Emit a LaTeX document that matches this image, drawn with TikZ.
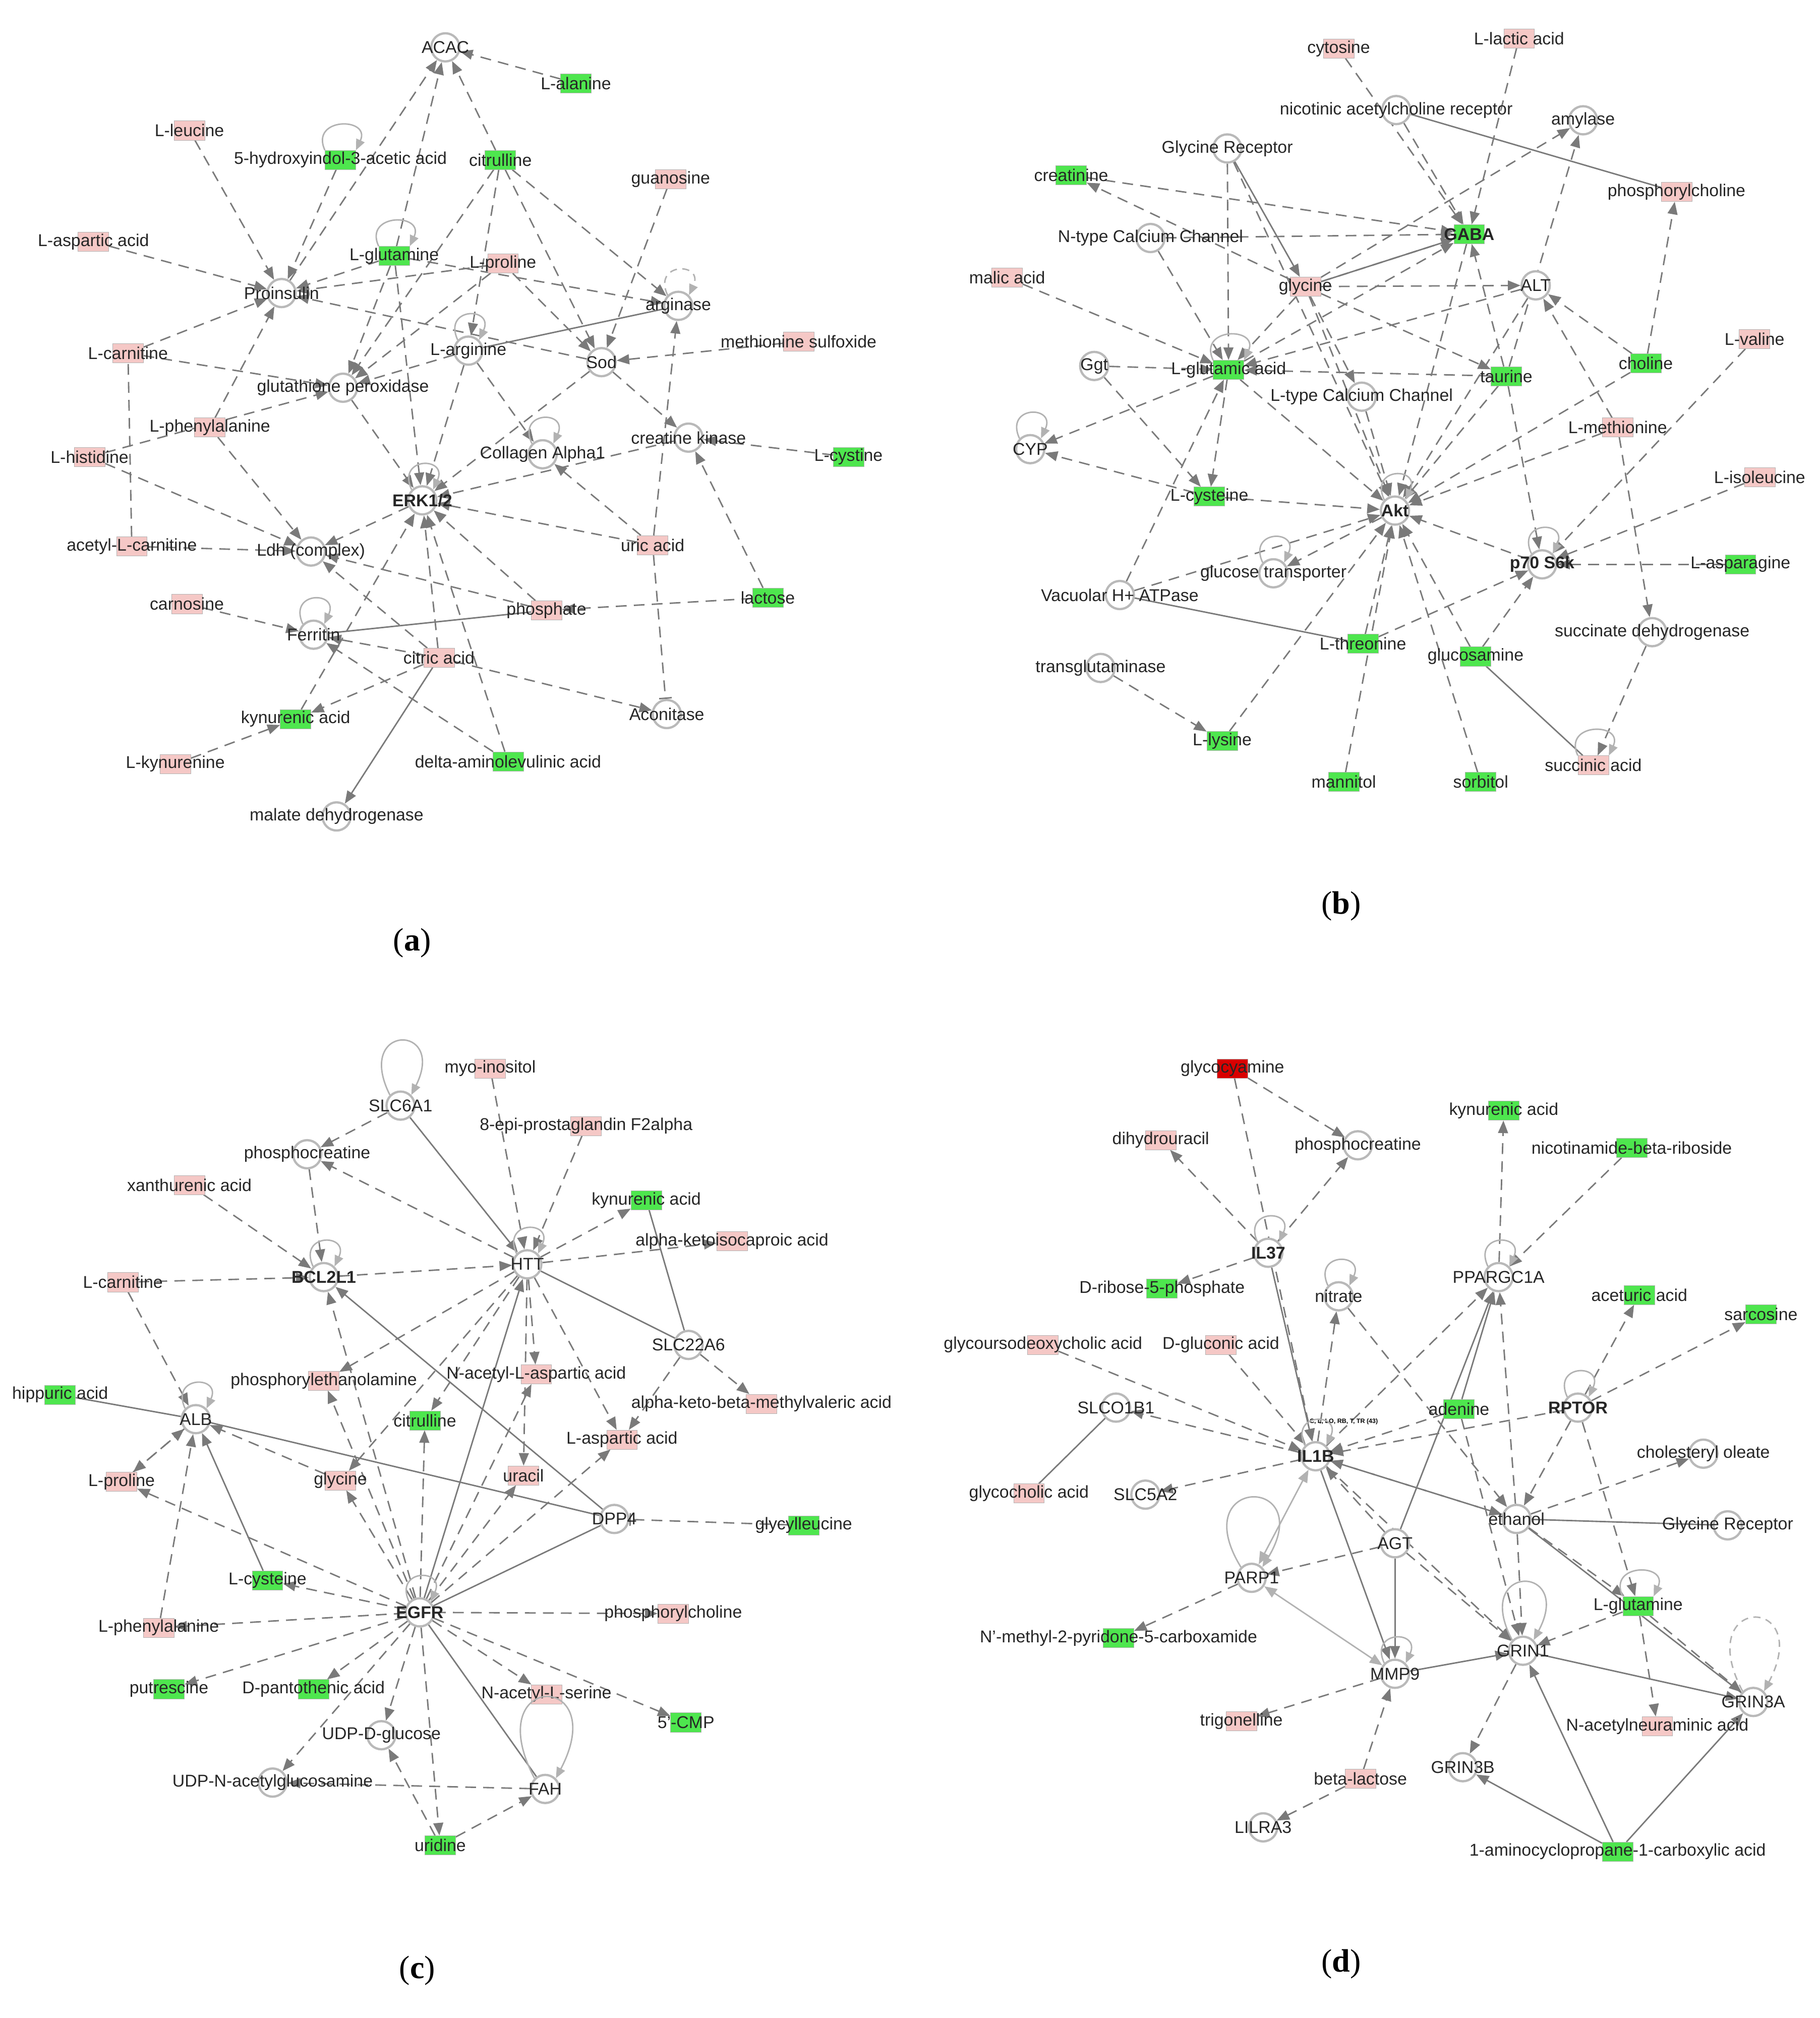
\documentclass[tikz,border=0pt]{standalone}
\usepackage{fontspec}
\setmainfont{Liberation Sans}
\newfontfamily\capfont{Liberation Serif}
\usetikzlibrary{arrows.meta}
\pgfdeclarelayer{bg}\pgfdeclarelayer{edges}\pgfsetlayers{bg,edges,main}
\definecolor{pk}{HTML}{F5C8C6}
\definecolor{gr}{HTML}{4EE64E}
\definecolor{ln}{HTML}{7A7A7A}
\tikzset{
 pkn/.style={draw=gray!60,fill=pk,minimum width=1.2cm,minimum height=0.75cm,inner sep=0},
 grn/.style={draw=gray!60,fill=gr,minimum width=1.2cm,minimum height=0.75cm,inner sep=0},
 rdn/.style={draw=gray!60,fill=red!85!black,minimum width=1.2cm,minimum height=0.75cm,inner sep=0},
 cin/.style={circle,draw=gray!55,line width=2.5pt,fill=white,minimum size=1.1cm,inner sep=0},
 lab/.style={font=\fontsize{19}{22}\selectfont,text=black!85,inner sep=0},
 blab/.style={font=\fontsize{19}{22}\selectfont\bfseries,text=black!85,inner sep=0},
 da/.style={draw=ln,line width=1.6pt,dash pattern=on 12pt off 8pt,-{Triangle[length=14pt,width=11pt]}},
 sa/.style={draw=ln,line width=1.6pt,-{Triangle[length=14pt,width=11pt]}},
 sn/.style={draw=ln,line width=1.6pt},
 dn/.style={draw=ln,line width=1.6pt,dash pattern=on 12pt off 8pt},
 inh/.style={draw=ln,line width=1.6pt,dash pattern=on 12pt off 8pt,-{Bar[width=14pt]}},
 sl/.style={draw=gray!60,line width=1.6pt,-{Triangle[length=12pt,width=10pt]}},
 captxt/.style={font=\capfont\fontsize{36}{40}\selectfont}
}
\newcommand\nP[4]{\node[pkn] (#1) at (#2,#3) {}; \node[lab] at (#1) {#4};}
\newcommand\nG[4]{\node[grn] (#1) at (#2,#3) {}; \node[lab] at (#1) {#4};}
\newcommand\nC[4]{\node[cin] (#1) at (#2,#3) {}; \node[lab] at (#1) {#4};}
\newcommand\nB[4]{\node[cin] (#1) at (#2,#3) {}; \node[blab] at (#1) {#4};}
\newcommand\Lp[1]{\draw[sl] (#1.north west) .. controls +(-0.6cm,1.3cm) and +(0.6cm,1.3cm) .. (#1.north east);}
\begin{document}
\begin{tikzpicture}[x=0.05cm,y=-0.05cm]
\begin{pgfonlayer}{bg}
\path[use as bounding box,fill=white] (0,0) rectangle (1422,1577);
\end{pgfonlayer}
% ---------- panel a
\nC{aACAC}{348}{37}{ACAC}
\nG{aAla}{450}{65}{L-alanine}
\nP{aLeu}{148}{102}{L-leucine}
\nG{aHIAA}{266}{125}{5-hydroxyindol-3-acetic acid}
\nG{aCit}{391}{125}{citrulline}
\nP{aGua}{524}{140}{guanosine}
\nP{aAsp}{73}{189}{L-aspartic acid}
\nG{aGln}{308}{200}{L-glutamine}
\nP{aPro}{393}{206}{L-proline}
\nC{aPins}{220}{229}{Proinsulin}
\nC{aArgase}{530}{239}{arginase}
\nP{aCarn}{100}{276}{L-carnitine}
\nC{aArg}{366}{274}{L-arginine}
\nC{aSod}{470}{283}{Sod}
\nP{aMetS}{624}{267}{methionine sulfoxide}
\nC{aGPx}{268}{303}{glutathione peroxidase}
\nP{aPhe}{164}{334}{L-phenylalanine}
\nC{aCK}{538}{342}{creatine kinase}
\nC{aCol}{424}{355}{Collagen Alpha1}
\nP{aHis}{70}{357}{L-histidine}
\nG{aCys}{663}{357}{L-cystine}
\nB{aERK}{330}{391}{ERK1/2}
\nP{aAcar}{103}{427}{acetyl-L-carnitine}
\nP{aUric}{510}{426}{uric acid}
\nC{aLdh}{243}{431}{Ldh (complex)}
\nP{aCarno}{146}{472}{carnosine}
\nG{aLac}{600}{467}{lactose}
\nP{aPhos}{427}{477}{phosphate}
\nC{aFer}{245}{496}{Ferritin}
\nP{aCitr}{343}{514}{citric acid}
\nC{aAcon}{521}{558}{Aconitase}
\nG{aKyn}{231}{562}{kynurenic acid}
\nP{aKynu}{137}{597}{L-kynurenine}
\nG{aDelta}{397}{595}{delta-aminolevulinic acid}
\nC{aMDH}{263}{638}{malate dehydrogenase}
\begin{pgfonlayer}{edges}
\foreach \a/\b in {aAla/aACAC,aGln/aACAC,aCit/aACAC,aPins/aACAC,aLeu/aPins,aAsp/aPins,aHIAA/aPins,aGln/aPins,aPro/aPins,aSod/aPins,aCarn/aPins,aPhe/aPins,aCit/aGPx,aCit/aArg,aCit/aArgase,aCit/aSod,aGua/aSod,aGln/aArgase,aGln/aERK,aGln/aGPx,aPro/aSod,aPro/aGPx,aArg/aERK,aArg/aCol,aArg/aGPx,aMetS/aSod,aCarn/aGPx,aHis/aLdh,aHis/aGPx,aPhe/aLdh,aSod/aCK,aSod/aERK,aCys/aCK,aCK/aERK,aUric/aERK,aUric/aArgase,aUric/aCol,aLac/aCK,aPhos/aERK,aPhos/aLdh,aLac/aPhos,aCarno/aFer,aCitr/aERK,aCitr/aLdh,aCitr/aFer,aCitr/aAcon,aCitr/aKyn,aKyn/aERK,aKynu/aKyn,aDelta/aFer,aDelta/aERK,aERK/aLdh,aAcar/aLdh,aGPx/aERK}
 \draw[da] (\a) -- (\b);
\draw[sn] (aArg) -- (aArgase);
\draw[sn] (aFer) -- (aPhos);
\draw[sa] (aCitr) -- (aMDH);
\draw[dn] (aAcar) -- (aCarn);
\draw[inh] (aUric) -- (aAcon);
\end{pgfonlayer}
\Lp{aHIAA}\Lp{aArg}\Lp{aCol}\Lp{aERK}\Lp{aFer}\Lp{aGln}
\draw[sl,dash pattern=on 8pt off 6pt] (aArgase.north west) .. controls +(-0.6cm,1.3cm) and +(0.6cm,1.3cm) .. (aArgase.north east);
% ---------- panel b
\nP{bCyt}{1046}{38}{cytosine}
\nP{bLac}{1187}{30}{L-lactic acid}
\nC{bnAChR}{1091}{86}{nicotinic acetylcholine receptor}
\nC{bAmy}{1237}{94}{amylase}
\nC{bGlyR}{959}{116}{Glycine Receptor}
\nG{bCrn}{837}{137}{creatinine}
\nP{bPC}{1310}{150}{phosphorylcholine}
\nG{bGABA}{1148}{183}{\bfseries GABA}
\nC{bNtype}{899}{186}{N-type Calcium Channel}
\nP{bMal}{787}{217}{malic acid}
\nP{bGly}{1020}{224}{glycine}
\nC{bALT}{1200}{223}{ALT}
\nC{bGgt}{855}{286}{Ggt}
\nG{bGlu}{960}{289}{L-glutamic acid}
\nG{bTau}{1177}{294}{taurine}
\nG{bCho}{1286}{284}{choline}
\nP{bVal}{1371}{265}{L-valine}
\nC{bLtype}{1064}{310}{L-type Calcium Channel}
\nC{bCYP}{805}{351}{CYP}
\nP{bMet}{1264}{334}{L-methionine}
\nG{bCys}{945}{388}{L-cysteine}
\nB{bAkt}{1090}{399}{Akt}
\nP{bIle}{1375}{373}{L-isoleucine}
\nB{bS6k}{1205}{441}{p70 S6k}
\nG{bAsn}{1360}{441}{L-asparagine}
\nC{bGT}{995}{448}{glucose transporter}
\nC{bVac}{875}{465}{Vacuolar H+ ATPase}
\nC{bSDH}{1291}{494}{succinate dehydrogenase}
\nG{bThr}{1065}{503}{L-threonine}
\nG{bGlcN}{1153}{513}{glucosamine}
\nC{bTG}{860}{522}{transglutaminase}
\nG{bLys}{955}{579}{L-lysine}
\nG{bMan}{1050}{611}{mannitol}
\nG{bSor}{1157}{611}{sorbitol}
\nP{bSuc}{1245}{598}{succinic acid}
\begin{pgfonlayer}{edges}
\foreach \a/\b in {bCyt/bGABA,bLac/bGABA,bnAChR/bGABA,bGly/bAmy,bGlyR/bGlu,bGlyR/bAkt,bGly/bCrn,bCrn/bGABA,bNtype/bGABA,bNtype/bGlu,bMal/bGlu,bGly/bGABA,bGly/bALT,bGly/bGlu,bGly/bAkt,bGly/bTau,bGgt/bGlu,bGgt/bCys,bGlu/bCYP,bGlu/bGABA,bGlu/bAkt,bGlu/bCys,bALT/bGlu,bTau/bGABA,bTau/bAkt,bTau/bGlu,bCho/bALT,bCho/bPC,bCho/bAkt,bVal/bS6k,bMet/bAkt,bMet/bALT,bMet/bSDH,bIle/bS6k,bAsn/bS6k,bCys/bAkt,bCys/bCYP,bAkt/bGT,bVac/bAkt,bVac/bGlu,bTG/bLys,bLys/bAkt,bMan/bAkt,bSor/bAkt,bGlcN/bAkt,bGlcN/bS6k,bSDH/bSuc,bThr/bAkt,bThr/bS6k,bS6k/bAkt,bALT/bAkt,bTau/bS6k,bGABA/bAkt,bLtype/bAkt,bGly/bLtype,bTau/bAmy}
 \draw[da] (\a) -- (\b);
\draw[sn] (bnAChR) -- (bPC);
\draw[sa] (bGly) -- (bGABA);
\draw[sn] (bGlcN) -- (bSuc);
\draw[sn] (bVac) -- (bThr);
\draw[sa] (bGlyR) -- (bGly);
\end{pgfonlayer}
\Lp{bS6k}\Lp{bCYP}\Lp{bAkt}\Lp{bGlu}\Lp{bGT}\Lp{bSuc}
% ---------- panel c
\nC{cSLC6}{313}{864}{SLC6A1}
\nP{cMyo}{383}{835}{myo-inositol}
\nP{cEpi}{458}{880}{8-epi-prostaglandin F2alpha}
\nC{cPCr}{240}{902}{phosphocreatine}
\nP{cXan}{148}{926}{xanthurenic acid}
\nG{cKyn}{505}{938}{kynurenic acid}
\nP{cKic}{572}{970}{alpha-ketoisocaproic acid}
\nP{cCarn}{96}{1002}{L-carnitine}
\nB{cBCL}{253}{998}{BCL2L1}
\nC{cHTT}{412}{988}{HTT}
\nC{cSLC22}{538}{1051}{SLC22A6}
\nP{cPEA}{253}{1079}{phosphorylethanolamine}
\nP{cNAA}{419}{1074}{N-acetyl-L-aspartic acid}
\nP{cKmv}{595}{1097}{alpha-keto-beta-methylvaleric acid}
\nG{cHip}{47}{1090}{hippuric acid}
\nC{cALB}{153}{1109}{ALB}
\nG{cCit}{332}{1110}{citrulline}
\nP{cAsp}{486}{1125}{L-aspartic acid}
\nP{cPro}{95}{1158}{L-proline}
\nP{cGly}{266}{1157}{glycine}
\nP{cUra}{409}{1153}{uracil}
\nC{cDPP4}{480}{1187}{DPP4}
\nG{cGlyLeu}{628}{1192}{glycylleucine}
\nG{cCys}{209}{1235}{L-cysteine}
\nB{cEGFR}{328}{1260}{EGFR}
\nP{cPC}{526}{1261}{phosphorylcholine}
\nP{cPhe}{124}{1272}{L-phenylalanine}
\nG{cPut}{132}{1320}{putrescine}
\nG{cPan}{245}{1320}{D-pantothenic acid}
\nP{cNAS}{427}{1324}{N-acetyl-L-serine}
\nG{cCMP}{536}{1346}{5'-CMP}
\nC{cUDPG}{298}{1356}{UDP-D-glucose}
\nC{cUDPN}{213}{1393}{UDP-N-acetylglucosamine}
\nC{cFAH}{426}{1398}{FAH}
\nG{cUri}{344}{1442}{uridine}
\begin{pgfonlayer}{edges}
\foreach \a/\b in {cMyo/cHTT,cEpi/cHTT,cPCr/cBCL,cSLC6/cPCr,cXan/cBCL,cHTT/cKyn,cHTT/cKic,cCarn/cBCL,cBCL/cHTT,cSLC22/cKmv,cHTT/cPEA,cHTT/cNAA,cHTT/cCit,cHTT/cGly,cHTT/cAsp,cHTT/cUra,cHTT/cPCr,cCarn/cALB,cALB/cPro,cPhe/cALB,cGly/cALB,cPro/cALB,cEGFR/cPro,cEGFR/cCys,cEGFR/cPhe,cEGFR/cPut,cEGFR/cPan,cEGFR/cUDPG,cEGFR/cUDPN,cEGFR/cUri,cEGFR/cNAS,cEGFR/cCMP,cEGFR/cPC,cEGFR/cGly,cEGFR/cCit,cEGFR/cUra,cEGFR/cNAA,cEGFR/cBCL,cEGFR/cPEA,cEGFR/cAsp,cUri/cFAH,cFAH/cUDPN,cUri/cUDPG,cSLC22/cAsp}
 \draw[da] (\a) -- (\b);
\draw[sa] (cSLC6) -- (cHTT);
\draw[sn] (cKyn) -- (cSLC22);
\draw[sn] (cSLC22) -- (cHTT);
\draw[sn] (cHip) -- (cALB);
\draw[sn] (cALB) -- (cDPP4);
\draw[sa] (cDPP4) -- (cBCL);
\draw[sa] (cCys) -- (cALB);
\draw[sa] (cEGFR) -- (cHTT);
\draw[sn] (cEGFR) -- (cDPP4);
\draw[sn] (cEGFR) -- (cFAH);
\draw[inh] (cGlyLeu) -- (cDPP4);
\end{pgfonlayer}
\draw[sl] (cSLC6.north west) .. controls +(-1.4cm,2.8cm) and +(1.4cm,2.8cm) .. (cSLC6.north east);
\draw[sl] (cFAH.north west) .. controls +(-2.2cm,4.2cm) and +(2.2cm,4.2cm) .. (cFAH.north east);
\Lp{cBCL}\Lp{cHTT}\Lp{cALB}\Lp{cEGFR}
% ---------- panel d
\node[rdn] (dGcy) at (963,835) {}; \node[lab] at (dGcy) {glycocyamine};
\nG{dKyn}{1175}{868}{kynurenic acid}
\nP{dDHU}{907}{891}{dihydrouracil}
\nC{dPCr}{1061}{895}{phosphocreatine}
\nG{dNMN}{1275}{897}{nicotinamide-beta-riboside}
\nB{dIL37}{991}{979}{IL37}
\nC{dNit}{1046}{1013}{nitrate}
\nC{dPGC}{1171}{998}{PPARGC1A}
\nG{dRib}{908}{1007}{D-ribose-5-phosphate}
\nG{dAce}{1281}{1012}{aceturic acid}
\nG{dSar}{1376}{1027}{sarcosine}
\nP{dGUDC}{815}{1051}{glycoursodeoxycholic acid}
\nP{dGlu}{954}{1051}{D-gluconic acid}
\nC{dSLCO}{872}{1100}{SLCO1B1}
\nG{dAde}{1140}{1101}{adenine}
\nB{dRPTOR}{1233}{1100}{RPTOR}
\nB{dIL1B}{1028}{1138}{IL1B}
\node[font=\bfseries\fontsize{7}{8}\selectfont] (dIL1Bt) at (1050,1111) {C, L, LO, RB, T, TR (43)};
\nC{dChol}{1331}{1136}{cholesteryl oleate}
\nP{dGCA}{804}{1167}{glycocholic acid}
\nC{dSLC5}{895}{1168}{SLC5A2}
\nC{dEth}{1185}{1187}{ethanol}
\nC{dGlyR}{1350}{1192}{Glycine Receptor}
\nC{dAGT}{1090}{1206}{AGT}
\nC{dPARP}{978}{1233}{PARP1}
\nG{dGln}{1280}{1255}{L-glutamine}
\nG{dNMP}{874}{1280}{N'-methyl-2-pyridone-5-carboxamide}
\nC{dGRIN1}{1190}{1290}{GRIN1}
\nC{dMMP9}{1090}{1308}{MMP9}
\nC{dGRIN3A}{1370}{1330}{GRIN3A}
\nP{dTrig}{970}{1345}{trigonelline}
\nP{dNeu}{1295}{1349}{N-acetylneuraminic acid}
\nC{dGRIN3B}{1143}{1381}{GRIN3B}
\nP{dBlac}{1063}{1390}{beta-lactose}
\nC{dLIL}{987}{1428}{LILRA3}
\nG{dACC}{1264}{1447}{1-aminocyclopropane-1-carboxylic acid}
\begin{pgfonlayer}{edges}
\foreach \a/\b in {dGcy/dIL1B,dGcy/dPCr,dIL37/dDHU,dIL37/dPCr,dIL37/dRib,dIL1B/dNit,dIL1B/dPGC,dPGC/dKyn,dNMN/dPGC,dRPTOR/dAce,dRPTOR/dSar,dGUDC/dIL1B,dGlu/dIL1B,dIL1B/dSLCO,dIL1B/dSLC5,dAde/dIL1B,dRPTOR/dIL1B,dEth/dChol,dEth/dIL1B,dEth/dGRIN1,dEth/dGln,dEth/dPGC,dAGT/dIL1B,dAGT/dPARP,dAGT/dGRIN1,dPARP/dNMP,dMMP9/dTrig,dBlac/dMMP9,dBlac/dLIL,dGln/dGRIN1,dGln/dGRIN3A,dGln/dNeu,dGRIN1/dGRIN3B,dRPTOR/dGln,dIL1B/dGRIN1,dNit/dEth,dIL1B/dEth,dAde/dGRIN1,dRPTOR/dEth}
 \draw[da] (\a) -- (\b);
\draw[sa] (dIL37) -- (dIL1B);
\draw[sn] (dSLCO) -- (dGCA);
\draw[sn] (dEth) -- (dGlyR);
\draw[sa] (dAGT) -- (dPGC);
\draw[sa] (dAde) -- (dPGC);
\draw[sa] (dAGT) -- (dMMP9);
\draw[sl,{Triangle[length=14pt,width=11pt]}-{Triangle[length=14pt,width=11pt]}] (dPARP) -- (dIL1B);
\draw[sl,{Triangle[length=14pt,width=11pt]}-{Triangle[length=14pt,width=11pt]}] (dPARP) -- (dMMP9);
\draw[sa] (dIL1B) -- (dMMP9);
\draw[sa] (dMMP9) -- (dGRIN1);
\draw[sa] (dGRIN1) -- (dGRIN3A);
\draw[sa] (dACC) -- (dGRIN3B);
\draw[sa] (dACC) -- (dGRIN3A);
\draw[sa] (dACC) -- (dGRIN1);
\draw[sn] (dEth) -- (dGRIN3A);
\end{pgfonlayer}
\draw[sl] (dPARP.north west) .. controls +(-2.2cm,3.6cm) and +(2.2cm,3.6cm) .. (dPARP.north east);
\draw[sl] (dGRIN1.north west) .. controls +(-1.6cm,3cm) and +(1.6cm,3cm) .. (dGRIN1.north east);
\draw[sl,dash pattern=on 8pt off 6pt] (dGRIN3A.north west) .. controls +(-2cm,3.8cm) and +(2cm,3.8cm) .. (dGRIN3A.north east);
\Lp{dIL37}\Lp{dNit}\Lp{dPGC}\Lp{dIL1B}\Lp{dMMP9}\Lp{dGln}\Lp{dRPTOR}
% captions
\node[captxt] (capa) at (322,737) {(\textbf{a})};
\node[captxt] (capb) at (1048,708) {(\textbf{b})};
\node[captxt] (capc) at (326,1540) {(\textbf{c})};
\node[captxt] (capd) at (1048,1535) {(\textbf{d})};
\end{tikzpicture}
\end{document}
